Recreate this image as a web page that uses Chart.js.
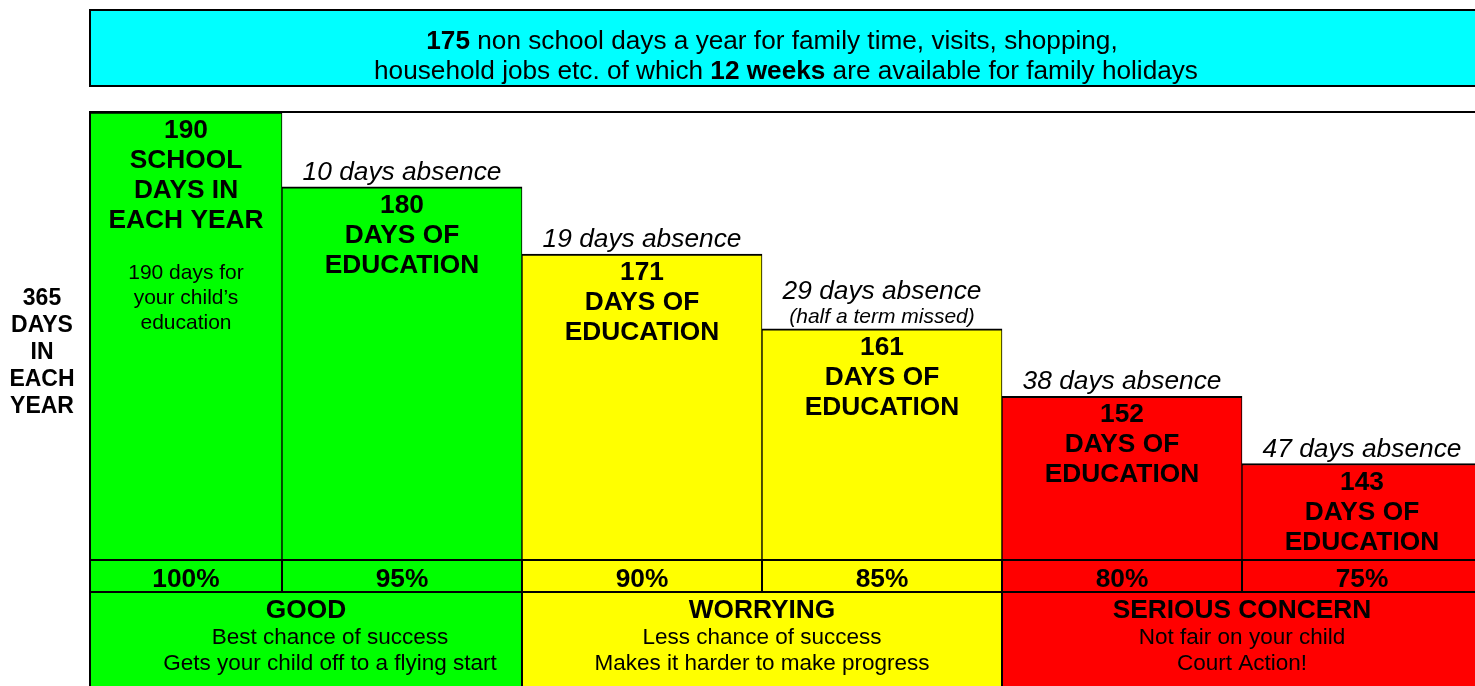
<!DOCTYPE html>
<html>
<head>
<meta charset="utf-8">
<script src="https://cdn.jsdelivr.net/npm/chart.js@4.4.1/dist/chart.umd.min.js"></script>
<style>
  html, body { margin: 0; padding: 0; background: #ffffff; overflow: hidden; }
  canvas { display: block; }
</style>
</head>
<body>
<canvas id="chart" width="1475" height="686"></canvas>
<script>
// ---------- data ----------
const categories = ['School days', '10 days absence', '19 days absence', '29 days absence', '38 days absence', '47 days absence'];
const daysOfEducation = [190, 180, 171, 161, 152, 143];
const absenceDays = [0, 10, 19, 29, 38, 47];
const attendance = ['100%', '95%', '90%', '85%', '80%', '75%'];
const barColors = ['#00FF00', '#00FF00', '#FFFF00', '#FFFF00', '#FF0000', '#FF0000'];
const bandOfBar = [0, 0, 1, 1, 2, 2];
const bandTitles = ['GOOD', 'WORRYING', 'SERIOUS CONCERN'];
const bandLines = [
  ['Best chance of success', 'Gets your child off to a flying start'],
  ['Less chance of success', 'Makes it harder to make progress'],
  ['Not fair on your child', 'Court Action!']
];
const bandColors = ['#00FF00', '#FFFF00', '#FF0000'];
const yearLabel = ['365', 'DAYS', 'IN', 'EACH', 'YEAR'];
const firstBarTitle = ['SCHOOL', 'DAYS IN', 'EACH YEAR'];
const firstBarNote = ['190 days for', 'your child\u2019s', 'education'];
const barTitle = ['DAYS OF', 'EDUCATION'];
const absenceNotes = ['', '', '', '(half a term missed)', '', ''];
const headerLine1 = [['175', true], [' non school days a year for family time, visits, shopping,', false]];
const headerLine2 = [['household jobs etc. of which ', false], ['12 weeks', true], [' are available for family holidays', false]];
const yAxisMin = 130.1;
const yAxisMax = 190;

// ---------- style ----------
const FONT = '"Liberation Sans", Arial, Helvetica, sans-serif';
const LAYOUT = { frameLeft: 90, headerTop: 10, headerBottom: 86, pctRowHeight: 32, goodTextShift: 24, header1Shift: -14 };
const PAD = { left: 162, right: 113, top: 112, bottom: 126 };
const SIZE = { header: 26.2, bold: 26.3, italic: 26.3, note: 21, small: 21, year: 23, pct: 26.3, band: 26.3, bandSub: 22.5 };

function f(size, weight, style) { return (style || 'normal') + ' ' + (weight || 'normal') + ' ' + size + 'px ' + FONT; }
function text(ctx, s, x, y, font) {
  ctx.font = font; ctx.textAlign = 'center'; ctx.textBaseline = 'alphabetic'; ctx.fillStyle = '#000'; ctx.fillText(s, x, y);
}
function rich(ctx, segs, cx, y, size) {
  let w = 0;
  segs.forEach(s => { ctx.font = f(size, s[1] ? 'bold' : 'normal'); w += ctx.measureText(s[0]).width; });
  let x = cx - w / 2;
  ctx.textAlign = 'left'; ctx.textBaseline = 'alphabetic'; ctx.fillStyle = '#000';
  segs.forEach(s => { ctx.font = f(size, s[1] ? 'bold' : 'normal'); ctx.fillText(s[0], x, y); x += ctx.measureText(s[0]).width; });
}
function line(ctx, x1, y1, x2, y2) {
  ctx.beginPath(); ctx.moveTo(x1, y1); ctx.lineTo(x2, y2); ctx.stroke();
}
function bars(chart) {
  const meta = chart.getDatasetMeta(0);
  return meta.data.map(el => {
    const p = el.getProps(['x', 'y', 'width'], true);
    const left = Math.max(p.x - p.width / 2, LAYOUT.frameLeft);
    const right = p.x + p.width / 2;
    return { left, right, cx: (left + right) / 2, top: p.y };
  });
}
function bandRange(b, k) {
  const idx = bandOfBar.map((g, i) => g === k ? i : -1).filter(i => i >= 0);
  return { l: b[idx[0]].left, r: b[idx[idx.length - 1]].right };
}

const infographic = {
  id: 'infographic',
  beforeDatasetsDraw(chart) {
    const ctx = chart.ctx, area = chart.chartArea, H = chart.height;
    const b = bars(chart);
    const rowTop = area.bottom, rowBot = area.bottom + LAYOUT.pctRowHeight;
    ctx.save();
    // header box
    const hl = LAYOUT.frameLeft, hr = b[b.length - 1].right;
    ctx.fillStyle = '#00FFFF';
    ctx.fillRect(hl, LAYOUT.headerTop, hr - hl, LAYOUT.headerBottom - LAYOUT.headerTop);
    ctx.strokeStyle = '#000'; ctx.lineWidth = 2;
    ctx.strokeRect(hl, LAYOUT.headerTop, hr - hl, LAYOUT.headerBottom - LAYOUT.headerTop);
    const hc = (hl + hr) / 2;
    rich(ctx, headerLine1, hc + LAYOUT.header1Shift, 49, SIZE.header);
    rich(ctx, headerLine2, hc, 79, SIZE.header);
    // percentage row
    b.forEach((bb, i) => { ctx.fillStyle = barColors[i]; ctx.fillRect(bb.left, rowTop, bb.right - bb.left, rowBot - rowTop); });
    // band row
    bandTitles.forEach((t, k) => {
      const br = bandRange(b, k);
      ctx.fillStyle = bandColors[k];
      ctx.fillRect(br.l, rowBot, br.r - br.l, H - rowBot);
    });
    ctx.restore();
  },
  afterDatasetsDraw(chart) {
    const ctx = chart.ctx, area = chart.chartArea, W = chart.width, H = chart.height;
    const b = bars(chart);
    const rowTop = area.bottom, rowBot = area.bottom + LAYOUT.pctRowHeight;
    const FL = LAYOUT.frameLeft;
    ctx.save();
    ctx.strokeStyle = '#000'; ctx.lineWidth = 2;
    line(ctx, FL, area.top, W, area.top);
    line(ctx, FL, area.top - 1, FL, H);
    line(ctx, FL, rowTop, W, rowTop);
    line(ctx, FL, rowBot, W, rowBot);
    b.forEach((bb, i) => { if (i < b.length - 1) line(ctx, bb.right, rowTop, bb.right, rowBot); });
    bandTitles.forEach((t, k) => {
      const br = bandRange(b, k);
      if (k < bandTitles.length - 1) line(ctx, br.r, rowBot, br.r, H);
    });

    // left label
    yearLabel.forEach((s, j) => text(ctx, s, FL / 2 - 3, 305 + j * 27, f(SIZE.year, 'bold')));

    // bar texts
    b.forEach((bb, i) => {
      const t0 = bb.top + 26;
      text(ctx, String(daysOfEducation[i]), bb.cx, t0, f(SIZE.bold, 'bold'));
      if (absenceDays[i] === 0) {
        firstBarTitle.forEach((s, j) => text(ctx, s, bb.cx, t0 + 30 * (j + 1), f(SIZE.bold, 'bold')));
        firstBarNote.forEach((s, j) => text(ctx, s, bb.cx, 279 + 25 * j, f(SIZE.small)));
      } else {
        barTitle.forEach((s, j) => text(ctx, s, bb.cx, t0 + 30 * (j + 1), f(SIZE.bold, 'bold')));
        const lbl = absenceDays[i] + ' days absence';
        if (absenceNotes[i]) {
          text(ctx, lbl, bb.cx, bb.top - 30, f(SIZE.italic, 'normal', 'italic'));
          text(ctx, absenceNotes[i], bb.cx, bb.top - 6, f(SIZE.note, 'normal', 'italic'));
        } else {
          text(ctx, lbl, bb.cx, bb.top - 7, f(SIZE.italic, 'normal', 'italic'));
        }
      }
      text(ctx, attendance[i], bb.cx, rowTop + 27, f(SIZE.pct, 'bold'));
    });

    // band texts
    bandTitles.forEach((t, k) => {
      const br = bandRange(b, k);
      const cx = (br.l + br.r) / 2;
      text(ctx, t, cx, rowBot + 26, f(SIZE.band, 'bold'));
      const sx = cx + (k === 0 ? LAYOUT.goodTextShift : 0);
      bandLines[k].forEach((s, j) => text(ctx, s, sx, rowBot + 52 + 26 * j, f(SIZE.bandSub)));
    });
    ctx.restore();
  }
};

new Chart(document.getElementById('chart'), {
  type: 'bar',
  data: {
    labels: categories,
    datasets: [{
      data: daysOfEducation,
      base: yAxisMin,
      backgroundColor: barColors,
      borderColor: '#000000',
      borderWidth: { top: 2, left: 1, right: 1, bottom: 0 },
      borderSkipped: false,
      barThickness: 'flex',
      categoryPercentage: 1,
      barPercentage: 1,
      clip: { left: PAD.left - LAYOUT.frameLeft, top: false, right: false, bottom: 0 }
    }]
  },
  options: {
    responsive: false,
    animation: false,
    events: [],
    layout: { padding: PAD },
    scales: {
      x: { type: 'category', offset: false, display: false },
      y: { min: yAxisMin, max: yAxisMax, display: false }
    },
    plugins: { legend: { display: false }, tooltip: { enabled: false }, title: { display: false } }
  },
  plugins: [infographic]
});
</script>
</body>
</html>
